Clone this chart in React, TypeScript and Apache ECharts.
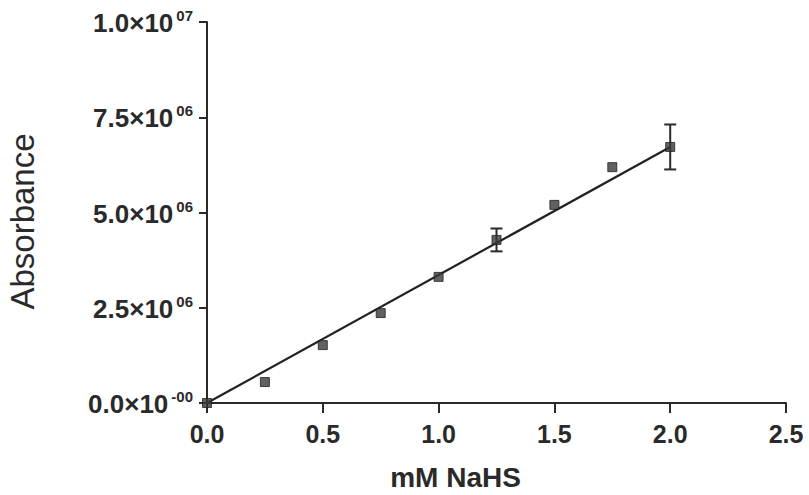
import React, { useEffect, useRef } from "react";
import * as echarts from "echarts";

const concentrations = [0, 0.25, 0.5, 0.75, 1.0, 1.25, 1.5, 1.75, 2.0];
const absorbance = [0, 0.55e6, 1.52e6, 2.36e6, 3.31e6, 4.28e6, 5.2e6, 6.19e6, 6.72e6];
const errors = [0, 0, 0, 0, 0, 0.3e6, 0, 0, 0.59e6];
const fitX = [0, 2.0];
const fitY = [0, 6.72e6];
const yTickBases = ["0.0×10", "2.5×10", "5.0×10", "7.5×10", "1.0×10"];
const yTickExps = ["-00", "06", "06", "06", "07"];
const xTickLabels = ["0.0", "0.5", "1.0", "1.5", "2.0", "2.5"];

const FONT = "'Liberation Sans', Arial, Helvetica, sans-serif";

export default function App() {
  const ref = useRef<HTMLDivElement>(null);
  useEffect(() => {
    if (!ref.current) return;
    const chart = echarts.init(ref.current, null, { renderer: "svg" });
    const points = concentrations.map((x, i) => [x, absorbance[i]]);
    const errData = concentrations
      .map((x, i) => [x, absorbance[i] - errors[i], absorbance[i] + errors[i]])
      .filter((d, i) => errors[i] > 0);
    chart.setOption({
      animation: false,
      backgroundColor: "#ffffff",
      grid: {
        left: 207,
        right: 23,
        top: 22,
        bottom: 92,
        containLabel: false,
        outerBoundsMode: "none",
      },
      xAxis: {
        type: "value",
        min: 0,
        max: 2.5,
        interval: 0.5,
        name: "mM NaHS",
        nameLocation: "middle",
        nameGap: 60,
        nameTextStyle: {
          fontFamily: FONT,
          fontSize: 28,
          fontWeight: "bold",
          color: "#2a2a2a",
          padding: [0, 82, 0, 0],
        },
        axisLine: { show: true, lineStyle: { color: "#2a2a2a", width: 2 } },
        axisTick: { show: true, length: 10, lineStyle: { color: "#2a2a2a", width: 2 } },
        splitLine: { show: false },
        axisLabel: {
          margin: 18,
          fontFamily: FONT,
          fontSize: 25,
          fontWeight: "bold",
          color: "#2a2a2a",
          formatter: (v: number) => xTickLabels[Math.round(v / 0.5)] ?? "",
        },
      },
      yAxis: {
        type: "value",
        min: 0,
        max: 1e7,
        interval: 2.5e6,
        name: "Absorbance",
        nameLocation: "middle",
        nameGap: 168,
        nameRotate: 90,
        nameTextStyle: {
          fontFamily: FONT,
          fontSize: 33,
          fontWeight: "normal",
          color: "#2a2a2a",
          padding: [0, 18, 0, 0],
        },
        axisLine: { show: true, lineStyle: { color: "#2a2a2a", width: 2 } },
        axisTick: { show: true, length: 8, lineStyle: { color: "#2a2a2a", width: 2 } },
        splitLine: { show: false },
        axisLabel: {
          margin: 14,
          formatter: (v: number) => {
            const i = Math.round(v / 2.5e6);
            return `{b|${yTickBases[i]}}{s|${yTickExps[i]}}`;
          },
          rich: {
            b: {
              fontFamily: FONT,
              fontSize: 26,
              fontWeight: "bold",
              color: "#2a2a2a",
              lineHeight: 28,
              verticalAlign: "bottom",
            },
            s: {
              fontFamily: FONT,
              fontSize: 15,
              fontWeight: "bold",
              color: "#2a2a2a",
              lineHeight: 28,
              verticalAlign: "top",
              padding: [0, 0, 0, 3],
            },
          },
        },
      },
      series: [
        {
          type: "line",
          data: fitX.map((x, i) => [x, fitY[i]]),
          symbol: "none",
          lineStyle: { color: "#222", width: 2.2 },
          z: 2,
        },
        {
          type: "custom",
          data: errData,
          renderItem: (params: any, api: any) => {
            const x = api.value(0);
            const lo = api.coord([x, api.value(1)]);
            const hi = api.coord([x, api.value(2)]);
            const w = 6;
            const style = { stroke: "#2a2a2a", lineWidth: 2 };
            return {
              type: "group",
              children: [
                { type: "line", shape: { x1: lo[0], y1: lo[1], x2: hi[0], y2: hi[1] }, style },
                { type: "line", shape: { x1: lo[0] - w, y1: lo[1], x2: lo[0] + w, y2: lo[1] }, style },
                { type: "line", shape: { x1: hi[0] - w, y1: hi[1], x2: hi[0] + w, y2: hi[1] }, style },
              ],
            };
          },
          z: 3,
        },
        {
          type: "scatter",
          data: points,
          symbol: "rect",
          symbolSize: 9,
          itemStyle: { color: "#3a3a3a", borderColor: "#222", borderWidth: 1 },
          z: 4,
        },
      ],
    });
    return () => chart.dispose();
  }, []);
  return <div ref={ref} style={{ width: 809, height: 495, position: "absolute", left: 0, top: 0 }} />;
}
